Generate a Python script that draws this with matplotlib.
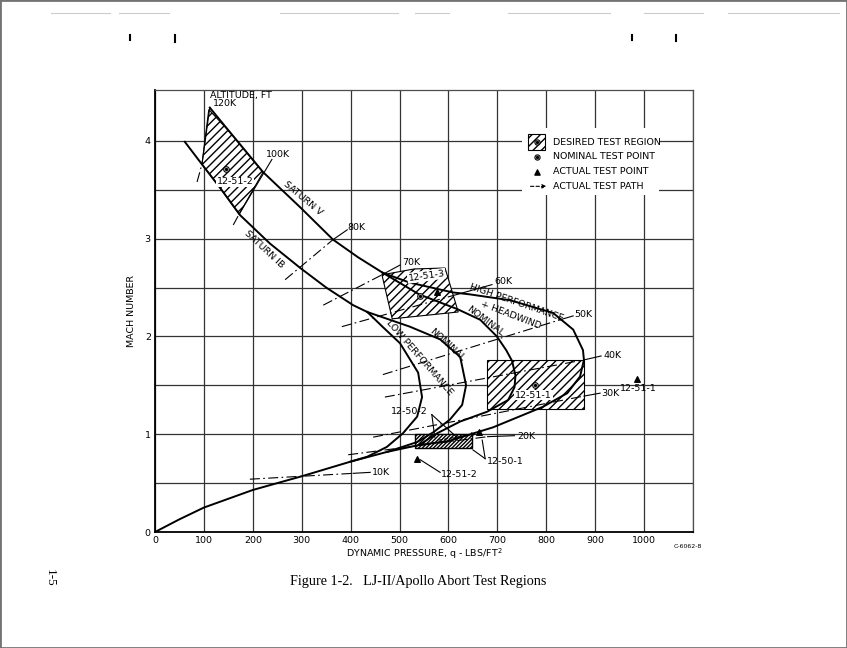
import matplotlib
matplotlib.use('Agg')
import matplotlib.pyplot as plt
from matplotlib.patches import Polygon, Rectangle
from matplotlib.lines import Line2D

# Traiettorie Saturn (q in lbs/ft^2, numero di Mach)
sat_v_q = [112, 153, 221, 297, 364, 415, 466]
sat_v_m = [4.34, 4.09, 3.68, 3.32, 2.99, 2.81, 2.65]
sat_ib_q = [61, 96, 133, 174, 235, 297, 350, 405, 434]
sat_ib_m = [3.99, 3.76, 3.52, 3.24, 2.95, 2.70, 2.50, 2.32, 2.25]

# Traiettorie LJ-II
main_q = [0, 50, 100, 200, 300, 400, 475, 540, 600]
main_m = [0, 0.13, 0.25, 0.43, 0.57, 0.72, 0.82, 0.89, 0.93]
low_q = [400, 434, 474, 507, 536, 546, 538, 501, 465, 434]
low_m = [0.72, 0.77, 0.87, 1.01, 1.18, 1.38, 1.63, 1.93, 2.10, 2.25]
nom_lo_q = [475, 536, 569, 603, 628, 636, 624, 583, 521, 434]
nom_lo_m = [0.82, 0.92, 1.02, 1.15, 1.30, 1.50, 1.79, 1.97, 2.10, 2.25]
nom_hi_q = [540, 577, 624, 679, 722, 735, 737, 730, 718, 699, 665, 618, 540, 466]
nom_hi_m = [0.89, 1.01, 1.13, 1.23, 1.35, 1.48, 1.60, 1.75, 1.86, 2.00, 2.17, 2.28, 2.43, 2.65]
high_q = [600, 691, 793, 843, 869, 877, 875, 855, 814, 726, 644, 609, 521, 466]
high_m = [0.93, 1.07, 1.28, 1.42, 1.59, 1.76, 1.86, 2.07, 2.24, 2.37, 2.43, 2.45, 2.55, 2.65]

# Linee di quota: tratto punto-linea e tratto pieno verso l'etichetta
alt_names = ['120K', '100K', '80K', '70K', '60K', '50K', '40K', '30K', '20K', '10K']
alt_dash_q = [(86, 96), (160, 172), (266, 364), (344, 464), (382, 618), (466, 828), (470, 877), (446, 877), (395, 680), (194, 405)]
alt_dash_m = [(3.58, 3.76), (3.14, 3.25), (2.58, 2.99), (2.32, 2.63), (2.10, 2.43), (1.61, 2.17), (1.38, 1.76), (0.97, 1.39), (0.79, 0.975), (0.54, 0.60)]
alt_solid_q = [(96, 112), (172, 239), (364, 393), (464, 501), (618, 689), (828, 855), (877, 912), (877, 910), (680, 735), (405, 440)]
alt_solid_m = [(3.76, 4.34), (3.25, 3.81), (2.99, 3.09), (2.63, 2.73), (2.43, 2.53), (2.17, 2.21), (1.76, 1.80), (1.39, 1.42), (0.975, 0.985), (0.60, 0.61)]
alt_lab_q = [119, 227, 393, 505, 693, 857, 916, 912, 740, 444]
alt_lab_m = [4.38, 3.86, 3.11, 2.76, 2.56, 2.22, 1.81, 1.42, 0.98, 0.61]

# Regioni di prova desiderate
r512_q = [110, 153, 221, 172, 133, 96]
r512_m = [4.32, 4.09, 3.68, 3.25, 3.52, 3.76]
r513_q = [464, 530, 593, 620, 485]
r513_m = [2.63, 2.69, 2.70, 2.25, 2.18]
r511_q = [679, 877]
r511_m = [1.26, 1.76]
r50_q = [532, 648]
r50_m = [0.86, 1.00]

# Punti di prova
nom_q = [145, 542, 777]
nom_m = [3.71, 2.41, 1.50]
act_q = [577, 986, 536, 662]
act_m = [2.45, 1.56, 0.75, 1.02]

FS = 6.8
plt.rcParams['font.family'] = ['DejaVu Sans']
fig = plt.figure(figsize=(8.47, 6.48), dpi=100)
ax = fig.add_axes([0.183, 0.179, 0.6352, 0.6821])
ax.set_xlim(0, 1100)
ax.set_ylim(0, 4.52)
ax.set_xticks([x * 100 for x in range(12)])
ax.set_xticklabels([str(x * 100) for x in range(11)] + [''])
ax.set_yticks([0, 1, 2, 3, 4])
ax.set_yticks([0.5, 1.5, 2.5, 3.5], minor=True)
ax.tick_params(length=0, labelsize=FS, pad=3)
ax.tick_params(which='minor', length=0)
ax.grid(True, which='both', color='0.2', lw=0.9)
ax.set_axisbelow(True)
for s in ['left', 'bottom']:
    ax.spines[s].set_linewidth(1.3)
for s in ['top', 'right']:
    ax.spines[s].set_color('0.3')
    ax.spines[s].set_linewidth(0.9)
ax.set_ylabel('MACH NUMBER', fontsize=FS, labelpad=6)
ax.set_xlabel('DYNAMIC PRESSURE, q - LBS/FT$^2$', fontsize=FS, labelpad=1)

# Regioni tratteggiate
ax.add_patch(Polygon(list(zip(r512_q, r512_m)), closed=True, fc='white', ec='black',
                     hatch='////', lw=0.8, zorder=2))
ax.add_patch(Polygon(list(zip(r513_q, r513_m)), closed=True, fc='white', ec='black',
                     hatch='////', lw=0.8, zorder=2))
ax.add_patch(Rectangle((r511_q[0], r511_m[0]), r511_q[1] - r511_q[0], r511_m[1] - r511_m[0],
                       fc='white', ec='black', hatch='////', lw=0.8, zorder=2))
ax.add_patch(Rectangle((r50_q[0], r50_m[0]), r50_q[1] - r50_q[0], r50_m[1] - r50_m[0],
                       fc='white', ec='black', hatch='/////////', lw=1.0, zorder=2))

# Curve
for q, m in [(sat_v_q, sat_v_m), (sat_ib_q, sat_ib_m), (main_q, main_m), (low_q, low_m),
             (nom_lo_q, nom_lo_m), (nom_hi_q, nom_hi_m), (high_q, high_m)]:
    ax.plot(q, m, color='black', lw=1.4, zorder=3, solid_joinstyle='round')

# Linee di quota
for i, name in enumerate(alt_names):
    ax.plot(alt_dash_q[i], alt_dash_m[i], color='black', lw=0.8, dashes=(9, 3, 1.5, 3), zorder=3)
    ax.plot(alt_solid_q[i], alt_solid_m[i], color='black', lw=0.8, zorder=3)
    ax.text(alt_lab_q[i], alt_lab_m[i], name, fontsize=FS, ha='left', va='center', zorder=4)
ax.text(112, 4.46, 'ALTITUDE, FT', fontsize=FS, ha='left', va='center')

# Etichette delle curve
curve_labels = [('SATURN V', 303, 3.41, -40), ('SATURN IB', 223, 2.89, -43),
                ('HIGH PERFORMANCE', 740, 2.34, -19), ('+ HEADWIND', 728, 2.22, -21),
                ('NOMINAL', 675, 2.16, -37), ('NOMINAL', 597, 1.91, -42),
                ('LOW PERFORMANCE', 540, 1.78, -49)]
for txt, q, m, rot in curve_labels:
    ax.text(q, m, txt, fontsize=FS, rotation=rot, ha='center', va='center',
            rotation_mode='anchor', zorder=4)

# Punti nominali e punti effettivi
ax.scatter(nom_q, nom_m, s=16, marker='o', facecolor='white', edgecolor='black', lw=0.8, zorder=5)
ax.scatter(nom_q, nom_m, s=2, marker='o', color='black', zorder=6)
ax.scatter(act_q, act_m, s=16, marker='^', color='black', zorder=5)

# Etichette dei test
wb = dict(facecolor='white', edgecolor='none', pad=0.6)
ax.text(164, 3.58, '12-51-2', fontsize=FS, ha='center', va='center', bbox=wb, zorder=4)
ax.text(555, 2.62, '12-51-3', fontsize=FS, ha='center', va='center', rotation=8, bbox=wb, zorder=4)
ax.text(774, 1.40, '12-51-1', fontsize=FS, ha='center', va='center', bbox=wb, zorder=4)
ax.text(988, 1.47, '12-51-1', fontsize=FS, ha='center', va='center', zorder=4)
ax.text(520, 1.23, '12-50-2', fontsize=FS, ha='center', va='center', zorder=4)
ax.text(716, 0.72, '12-50-1', fontsize=FS, ha='center', va='center', zorder=4)
ax.text(622, 0.59, '12-51-2', fontsize=FS, ha='center', va='center', zorder=4)
ax.plot([566, 572], [1.20, 0.97], color='black', lw=0.8, zorder=4)
ax.plot([566, 617], [1.20, 0.97], color='black', lw=0.8, zorder=4)
ax.plot([675, 650], [0.75, 0.84], color='black', lw=0.8, zorder=4)
ax.plot([675, 669], [0.75, 0.94], color='black', lw=0.8, zorder=4)
ax.plot([542, 583], [0.74, 0.61], color='black', lw=0.8, zorder=4)

# Traiettoria effettiva 12-50-1
ax.annotate('', xy=(662, 1.01), xytext=(575, 0.935),
            arrowprops=dict(arrowstyle='-|>', lw=0.8, ls=(0, (3, 2)), color='black',
                            mutation_scale=6), zorder=5)

# Legenda
ax.add_patch(Rectangle((750, 3.45), 280, 0.68, fc='white', ec='none', zorder=1))
ax.add_patch(Rectangle((763, 3.91), 35, 0.16, fc='white', ec='black', hatch='////', lw=0.8, zorder=2))
ax.scatter([781, 781], [3.99, 3.835], s=14, marker='o', facecolor='white', edgecolor='black', lw=0.8, zorder=5)
ax.scatter([781, 781], [3.99, 3.835], s=2, marker='o', color='black', zorder=6)
ax.scatter([781], [3.685], s=14, marker='^', color='black', zorder=5)
ax.annotate('', xy=(806, 3.535), xytext=(762, 3.535),
            arrowprops=dict(arrowstyle='-|>', lw=0.8, ls=(0, (3, 2)), color='black',
                            mutation_scale=6), zorder=5)
leg_txt = ['DESIRED TEST REGION', 'NOMINAL TEST POINT', 'ACTUAL TEST POINT', 'ACTUAL TEST PATH']
leg_m = [3.98, 3.835, 3.685, 3.535]
for t, m in zip(leg_txt, leg_m):
    ax.text(814, m, t, fontsize=FS, ha='left', va='center', zorder=4)

# Testi della pagina
fig.text(688 / 847, 1 - 546 / 648, 'C-6062-8', fontsize=4.5, ha='center', va='center')
fig.text(0.494, 1 - 581 / 648, 'Figure 1-2.   LJ-II/Apollo Abort Test Regions',
         fontsize=10.2, family='Liberation Serif', ha='center', va='center')
fig.text(50 / 847, 1 - 578 / 648, '1-5', fontsize=9.5, family='Liberation Serif',
         rotation=-90, ha='center', va='center')

# Bordo e segni della scansione
fig.add_artist(Rectangle((0, 0), 1, 1, transform=fig.transFigure, fill=False, ec='0.45', lw=2))
for x0, x1 in [(0.06, 0.13), (0.14, 0.2), (0.33, 0.47), (0.49, 0.53), (0.6, 0.72), (0.76, 0.83), (0.86, 0.99)]:
    fig.add_artist(Line2D([x0, x1], [0.98, 0.98], color='0.8', lw=0.8))
for xm, h in [(130, 5), (175, 7), (632, 5), (676, 6)]:
    fig.add_artist(Line2D([xm / 847, xm / 847], [1 - 35 / 648, 1 - (35 + h) / 648], color='black', lw=1.5))

fig.savefig('out.png', dpi=100)
